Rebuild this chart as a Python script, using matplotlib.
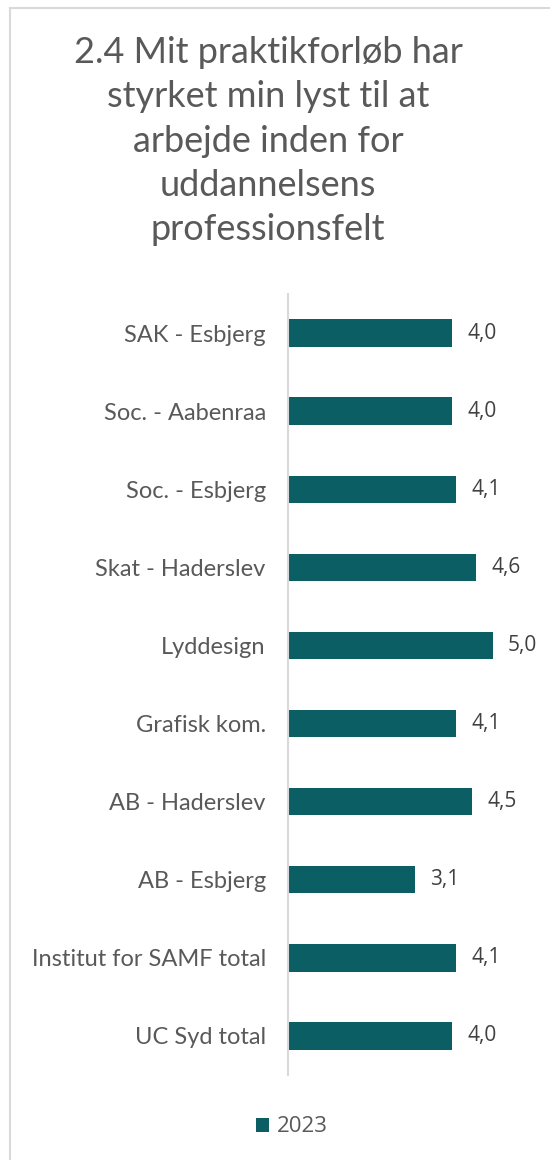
import matplotlib
matplotlib.use("Agg")
import matplotlib.pyplot as plt
from matplotlib.lines import Line2D

# data (top to bottom as in the chart)
categories = ["SAK - Esbjerg", "Soc. - Aabenraa", "Soc. - Esbjerg", "Skat - Haderslev",
              "Lyddesign", "Grafisk kom.", "AB - Haderslev", "AB - Esbjerg",
              "Institut for SAMF total", "UC Syd total"]
values = [4.0, 4.0, 4.1, 4.6, 5.0, 4.1, 4.5, 3.1, 4.1, 4.0]
series_name = "2023"

bar_color = "#0b5e63"
text_color = "#595959"

W, H = 550, 1160
fig = plt.figure(figsize=(W / 100, H / 100), dpi=100)

# light frame (top and left edge visible)
fig.add_artist(Line2D([10 / W, 10 / W], [0, 1 - 8 / H], transform=fig.transFigure,
                      color="#d9d9d9", lw=1.5))
fig.add_artist(Line2D([10 / W, 1], [1 - 8 / H, 1 - 8 / H], transform=fig.transFigure,
                      color="#d9d9d9", lw=1.5))

# title
fig.text(268 / W, 1 - 141 / H,
         "2.4 Mit praktikforløb har\nstyrket min lyst til at\narbejde inden for\nuddannelsens\nprofessionsfelt",
         ha="center", va="center", fontsize=26, color=text_color, family="Lato",
         linespacing=1.42)

# axes: x=0 at pixel 288, ~41 px per unit
left_px, right_px = 288, 550
top_px, bottom_px = 294, 1075
ax = fig.add_axes([left_px / W, 1 - bottom_px / H, (right_px - left_px) / W,
                   (bottom_px - top_px) / H])
xmax = (right_px - left_px) / 40.9
ax.set_xlim(0, xmax)

y = list(range(len(categories)))
bars = ax.barh(y, values, height=0.35, color=bar_color, label=series_name)
ax.set_ylim(len(categories) - 0.5, -0.5)
ax.set_yticks(y)
ax.set_yticklabels(categories, fontsize=17, color=text_color, family="Lato")
ax.tick_params(axis="y", length=0, pad=16)
ax.set_xticks([])

for s in ["top", "right", "bottom"]:
    ax.spines[s].set_visible(False)
ax.spines["left"].set_color("#d9d9d9")
ax.spines["left"].set_linewidth(1.5)

for bar, v in zip(bars, values):
    ax.text(bar.get_width() + 0.38, bar.get_y() + bar.get_height() / 2,
            f"{v:.1f}".replace(".", ","), ha="left", va="center",
            fontsize=15, color="#404040", family="Open Sans")

fig.legend(handles=[bars], labels=[series_name], loc="center",
           bbox_to_anchor=(0.53, 1 - 1127 / H), frameon=False,
           prop={"family": "Open Sans", "size": 16},
           labelcolor=text_color, handlelength=0.6, handleheight=0.6,
           handletextpad=0.35)

fig.savefig("out.png", dpi=100, facecolor="white")
